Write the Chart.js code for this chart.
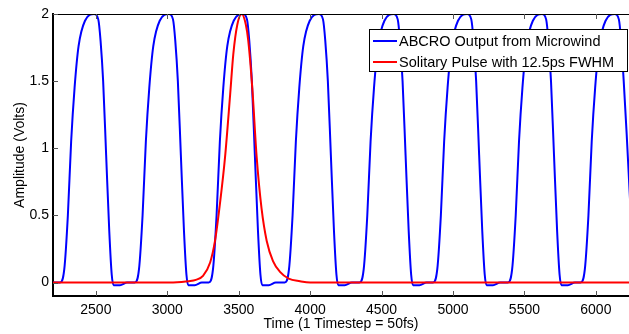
<!DOCTYPE html>
<html>
<head>
<meta charset="utf-8">
<script src="https://cdn.jsdelivr.net/npm/chart.js@4/dist/chart.umd.min.js"></script>
<style>
  html, body { margin: 0; padding: 0; background: #fff; }
  #wrap { width: 629px; height: 334px; }
</style>
</head>
<body>
<div id="wrap">
  <canvas id="pulseChart" width="629" height="334"></canvas>
</div>

<script>
  // blue trace, one row per pulse (time step, volts)
  const blueTime = [
    2200,
    2249, 2279, 2304, 2327, 2351, 2379, 2424, 2489, 2517, 2533, 2551, 2572, 2594, 2611, 2624, 2669, 2719,
    2772, 2802, 2827, 2850, 2874, 2902, 2947, 3012, 3040, 3056, 3074, 3095, 3117, 3134, 3147, 3192, 3242,
    3290, 3320, 3345, 3368, 3392, 3420, 3465, 3530, 3558, 3574, 3592, 3613, 3635, 3652, 3665, 3710, 3760,
    3822, 3852, 3877, 3900, 3924, 3952, 3997, 4062, 4090, 4106, 4124, 4145, 4167, 4184, 4197, 4242, 4292,
    4345, 4375, 4400, 4423, 4447, 4475, 4520, 4585, 4613, 4629, 4647, 4668, 4690, 4707, 4720, 4765, 4815,
    4860, 4890, 4915, 4938, 4962, 4990, 5035, 5100, 5128, 5144, 5162, 5183, 5205, 5222, 5235, 5280, 5330,
    5384, 5414, 5439, 5462, 5486, 5514, 5559, 5624, 5652, 5668, 5686, 5707, 5729, 5746, 5759, 5804, 5854,
    5893, 5923, 5948, 5971, 5995, 6023, 6068, 6133, 6161, 6177, 6195, 6216, 6240
  ];
  const blueVolts = [
    0,
    0, 0.1, 0.5, 1.05, 1.45, 1.76, 1.95, 2.0, 1.96, 1.8, 1.5, 0.95, 0.38, 0.06, -0.02, -0.02, 0,
    0, 0.1, 0.5, 1.05, 1.45, 1.76, 1.95, 2.0, 1.96, 1.8, 1.5, 0.95, 0.38, 0.06, -0.02, -0.02, 0,
    0, 0.1, 0.5, 1.05, 1.45, 1.76, 1.95, 2.0, 1.96, 1.8, 1.5, 0.95, 0.38, 0.06, -0.02, -0.02, 0,
    0, 0.1, 0.5, 1.05, 1.45, 1.76, 1.95, 2.0, 1.96, 1.8, 1.5, 0.95, 0.38, 0.06, -0.02, -0.02, 0,
    0, 0.1, 0.5, 1.05, 1.45, 1.76, 1.95, 2.0, 1.96, 1.8, 1.5, 0.95, 0.38, 0.06, -0.02, -0.02, 0,
    0, 0.1, 0.5, 1.05, 1.45, 1.76, 1.95, 2.0, 1.96, 1.8, 1.5, 0.95, 0.38, 0.06, -0.02, -0.02, 0,
    0, 0.1, 0.5, 1.05, 1.45, 1.76, 1.95, 2.0, 1.96, 1.8, 1.5, 0.95, 0.38, 0.06, -0.02, -0.02, 0,
    0, 0.1, 0.5, 1.05, 1.45, 1.76, 1.95, 2.0, 1.96, 1.8, 1.5, 1.1, 0.6
  ];

  // red gaussian-like pulse
  const redTime = [2200, 3000, 3100, 3150, 3200, 3250, 3300, 3334, 3370, 3404, 3440, 3462, 3490, 3521,
                   3550, 3567, 3595, 3626, 3660, 3696, 3740, 3789, 3850, 3929, 4000, 6240];
  const redVolts = [0, 0, 0.005, 0.01, 0.02, 0.05, 0.15, 0.31, 0.6, 0.93, 1.4, 1.7, 1.92, 2.0,
                    1.92, 1.8, 1.45, 0.93, 0.55, 0.31, 0.16, 0.08, 0.03, 0.01, 0, 0];

  const xTicks = [2500, 3000, 3500, 4000, 4500, 5000, 5500, 6000];
  const yTicks = [0, 0.5, 1, 1.5, 2];
  const seriesNames = ['ABCRO Output from Microwind', 'Solitary Pulse with 12.5ps FWHM'];

  const FONT = 'Liberation Sans, Arial, Helvetica, sans-serif';

  // matlab-ish box: thin top line, inward ticks
  const boxPlugin = {
    id: 'boxPlugin',
    afterDatasetsDraw(chart) {
      const { ctx, chartArea: a, scales } = chart;
      ctx.save();
      ctx.strokeStyle = '#000';
      ctx.lineWidth = 1;
      ctx.beginPath();
      ctx.moveTo(a.left, a.top + 0.5);
      ctx.lineTo(a.right, a.top + 0.5);
      ctx.stroke();

      ctx.strokeStyle = '#555';
      ctx.beginPath();
      xTicks.forEach(v => {
        const px = Math.round(scales.x.getPixelForValue(v)) + 0.5;
        ctx.moveTo(px, a.bottom); ctx.lineTo(px, a.bottom - 5);
        ctx.moveTo(px, a.top); ctx.lineTo(px, a.top + 5);
      });
      yTicks.forEach(v => {
        const py = Math.round(scales.y.getPixelForValue(v)) + 0.5;
        ctx.moveTo(a.left, py); ctx.lineTo(a.left + 5, py);
      });
      ctx.stroke();
      ctx.restore();
    },
    afterDraw(chart) {
      // legend box inside the plot, top right
      const { ctx } = chart;
      const x0 = 369, y0 = 29, w = 259, h = 43;
      ctx.save();
      ctx.fillStyle = '#fff';
      ctx.fillRect(x0, y0, w, h);
      ctx.strokeStyle = '#000';
      ctx.lineWidth = 1;
      ctx.strokeRect(x0 + 0.5, y0 + 0.5, w - 1, h - 1);
      ctx.font = '14.5px ' + FONT;
      ctx.textBaseline = 'middle';
      chart.data.datasets.forEach((ds, i) => {
        const ly = y0 + 12 + i * 21;
        ctx.strokeStyle = ds.borderColor;
        ctx.lineWidth = 2;
        ctx.beginPath();
        ctx.moveTo(x0 + 4, ly);
        ctx.lineTo(x0 + 28, ly);
        ctx.stroke();
        ctx.fillStyle = '#000';
        ctx.fillText(ds.label, x0 + 30, ly + 1);
      });
      ctx.restore();
    }
  };

  function initPulseChart() {
    const ctx = document.getElementById('pulseChart').getContext('2d');
    new Chart(ctx, {
      type: 'line',
      data: {
        datasets: [
          {
            label: seriesNames[0],
            data: blueTime.map((t, i) => ({ x: t, y: blueVolts[i] })),
            borderColor: '#0000ff',
            borderWidth: 2,
            pointRadius: 0,
            cubicInterpolationMode: 'monotone',
            fill: false,
            order: 2
          },
          {
            label: seriesNames[1],
            data: redTime.map((t, i) => ({ x: t, y: redVolts[i] })),
            borderColor: '#ff0000',
            borderWidth: 2,
            pointRadius: 0,
            cubicInterpolationMode: 'monotone',
            fill: false,
            order: 1
          }
        ]
      },
      options: {
        responsive: false,
        animation: false,
        layout: { padding: { top: 14, right: 0, left: 0, bottom: 0 } },
        plugins: { legend: { display: false }, tooltip: { enabled: false } },
        scales: {
          x: {
            type: 'linear',
            min: 2200,
            max: 6232,
            afterBuildTicks: s => { s.ticks = xTicks.map(v => ({ value: v })); },
            afterFit: s => { s.height = 38; },
            grid: { display: false, drawTicks: false },
            border: { display: true, color: '#000', width: 2 },
            ticks: {
              color: '#000', padding: 6, maxRotation: 0,
              font: { family: FONT, size: 14 },
              callback: v => String(v)
            },
            title: {
              display: true,
              text: 'Time (1 Timestep = 50fs)',
              color: '#000',
              padding: { top: 0, bottom: 1 },
              font: { family: FONT, size: 14 }
            }
          },
          y: {
            min: -0.1,
            max: 2,
            afterBuildTicks: s => { s.ticks = yTicks.map(v => ({ value: v })); },
            afterFit: s => { s.width = 53; },
            grid: { display: false, drawTicks: false },
            border: { display: true, color: '#000', width: 2 },
            ticks: {
              color: '#000', padding: 4,
              font: { family: FONT, size: 14 },
              callback: v => String(v)
            },
            title: {
              display: true,
              text: 'Amplitude (Volts)',
              color: '#000',
              padding: { top: 12, bottom: 0 },
              font: { family: FONT, size: 14 }
            }
          }
        }
      },
      plugins: [boxPlugin]
    });
  }

  requestAnimationFrame(initPulseChart);
</script>
</body>
</html>
